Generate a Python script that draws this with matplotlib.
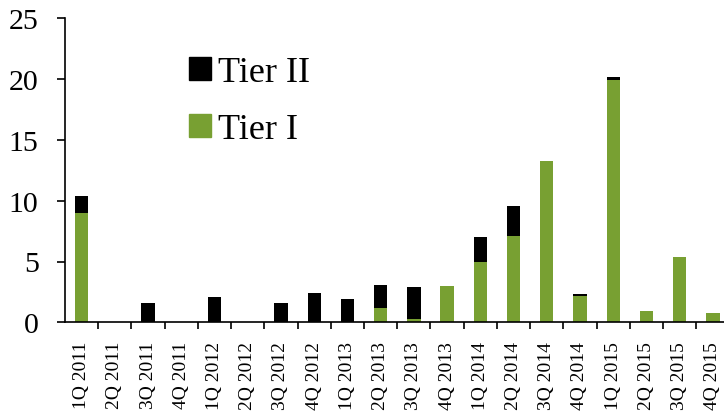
import numpy as np
import matplotlib.pyplot as plt
from matplotlib.patches import Patch

quarters = ['1Q 2011', '2Q 2011', '3Q 2011', '4Q 2011',
            '1Q 2012', '2Q 2012', '3Q 2012', '4Q 2012',
            '1Q 2013', '2Q 2013', '3Q 2013', '4Q 2013',
            '1Q 2014', '2Q 2014', '3Q 2014', '4Q 2014',
            '1Q 2015', '2Q 2015', '3Q 2015', '4Q 2015']
tier1 = [9.0, 0, 0, 0, 0, 0, 0, 0, 0, 1.15, 0.3, 3.0,
         5.0, 7.1, 13.3, 2.2, 19.9, 0.9, 5.4, 0.8]
tier2 = [1.4, 0, 1.6, 0, 2.1, 0, 1.6, 2.4, 1.9, 1.95, 2.6, 0,
         2.0, 2.5, 0, 0.1, 0.25, 0, 0, 0]

green = '#78a032'
plt.rcParams['font.family'] = 'Liberation Serif'

fig = plt.figure(figsize=(7.24, 4.14), dpi=100)
# axes runs slightly past the right edge of the figure
ax = fig.add_axes([65 / 724, 90.7 / 414, 664.5 / 724, 304 / 414])

x = np.arange(len(quarters))
ax.bar(x, tier1, width=0.40, color=green, label='Tier I')
ax.bar(x, tier2, width=0.40, bottom=tier1, color='black', label='Tier II')

ax.set_xlim(-0.5, len(quarters) - 0.5)
ax.set_ylim(0, 25)
ax.set_yticks([0, 5, 10, 15, 20, 25])
ax.tick_params(axis='y', labelsize=21.5, length=6, width=1.2, pad=13)

ax.set_xticks(x)
ax.set_xticklabels(quarters, rotation=90, fontsize=14)
ax.set_xticks(x[:-1] + 0.5, minor=True)
ax.tick_params(axis='x', which='major', length=0, pad=13.5)
ax.tick_params(axis='x', which='minor', length=5, width=1.2)

for side in ['top', 'right']:
    ax.spines[side].set_visible(False)
for side in ['left', 'bottom']:
    ax.spines[side].set_linewidth(1.2)

handles = [Patch(color='black'), Patch(color=green)]
ax.legend(handles, ['Tier II', 'Tier I'], loc='upper left',
          bbox_to_anchor=(0.165, 0.922), frameon=False, fontsize=26,
          handlelength=0.6, handleheight=0.6, handletextpad=0.2,
          labelspacing=0.65, borderaxespad=0)

fig.savefig('out.png', dpi=100)
